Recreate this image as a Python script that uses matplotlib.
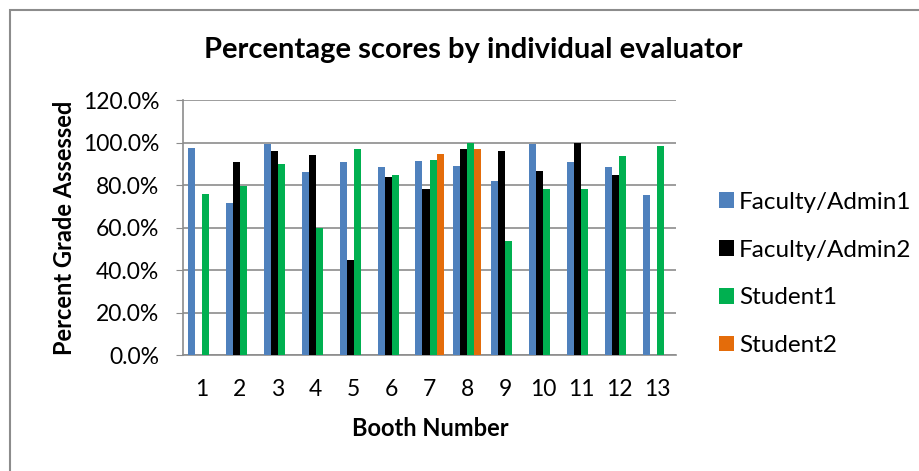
import numpy as np
import matplotlib.pyplot as plt
from matplotlib.patches import Rectangle
from matplotlib.ticker import PercentFormatter

plt.rcParams['font.family'] = ['Lato', 'DejaVu Sans']

booths = [str(i) for i in range(1, 14)]
series_names = ['Faculty/Admin1', 'Faculty/Admin2', 'Student1', 'Student2']
faculty1 = [97.2, 71.3, 99.2, 86.2, 90.8, 88.4, 91.5, 88.8, 81.9, 99.5, 90.8, 88.4, 75.3]
faculty2 = [np.nan, 90.8, 96.1, 93.9, 44.5, 83.9, 78.2, 96.9, 96.1, 86.4, 100.0, 84.5, np.nan]
student1 = [75.7, 79.5, 90.1, 60.0, 96.9, 84.5, 91.8, 100.0, 53.8, 78.3, 78.3, 93.8, 98.3]
student2 = [np.nan] * 6 + [94.5, 96.9] + [np.nan] * 5
colors = ['#4F81BD', '#000000', '#00B050', '#E46C0A']

W, H = 919, 471
fig = plt.figure(figsize=(W / 100, H / 100), dpi=100)
ax = fig.add_axes([183 / W, 1 - 355 / H, (676 - 183) / W, (355 - 100) / H])

x = np.arange(len(booths))
w = 0.185
for i, (vals, name) in enumerate(zip([faculty1, faculty2, student1, student2], series_names)):
    ax.bar(x + (i - 1.5) * w, vals, width=w, color=colors[i], label=name, zorder=3)

ax.set_xlim(-0.5, len(booths) - 0.5)
ax.set_ylim(0, 120)
ax.set_yticks(np.arange(0, 121, 20))
ax.yaxis.set_major_formatter(PercentFormatter(decimals=1))
ax.set_xticks(x)
ax.set_xticklabels(booths)
ax.grid(axis='y', color='#8c8c8c', linewidth=1.2, zorder=0)
for s in ['top', 'right']:
    ax.spines[s].set_visible(False)
for s in ['left', 'bottom']:
    ax.spines[s].set_color('#8c8c8c')
    ax.spines[s].set_linewidth(1.2)
ax.tick_params(axis='y', length=5, color='#8c8c8c', labelsize=16.5, pad=12)
ax.tick_params(axis='x', length=0, labelsize=16.5, pad=17)

fig.text(64 / W, 1 - 228 / H, 'Percent Grade Assessed', rotation=90,
         fontsize=17, fontweight='bold', ha='center', va='center')
fig.text(430 / W, 1 - 428 / H, 'Booth Number',
         fontsize=17, fontweight='bold', ha='center', va='center')
fig.text(473 / W, 1 - 50 / H, 'Percentage scores by individual evaluator',
         fontsize=21, fontweight='bold', ha='center', va='center')

fig.legend(*ax.get_legend_handles_labels(), loc='center left',
           bbox_to_anchor=(707 / W, 1 - 274 / H), bbox_transform=fig.transFigure,
           frameon=False, borderpad=0, fontsize=17.5, handlelength=0.62,
           handleheight=0.62, handletextpad=0.2, labelspacing=1.1)

# outer chart border
fig.patches.append(Rectangle((10 / W, -0.1), 1.2, (461 / H) + 0.1,
                             transform=fig.transFigure, fill=False,
                             edgecolor='#8c8c8c', linewidth=1.5))

fig.savefig('out.png', dpi=100)
